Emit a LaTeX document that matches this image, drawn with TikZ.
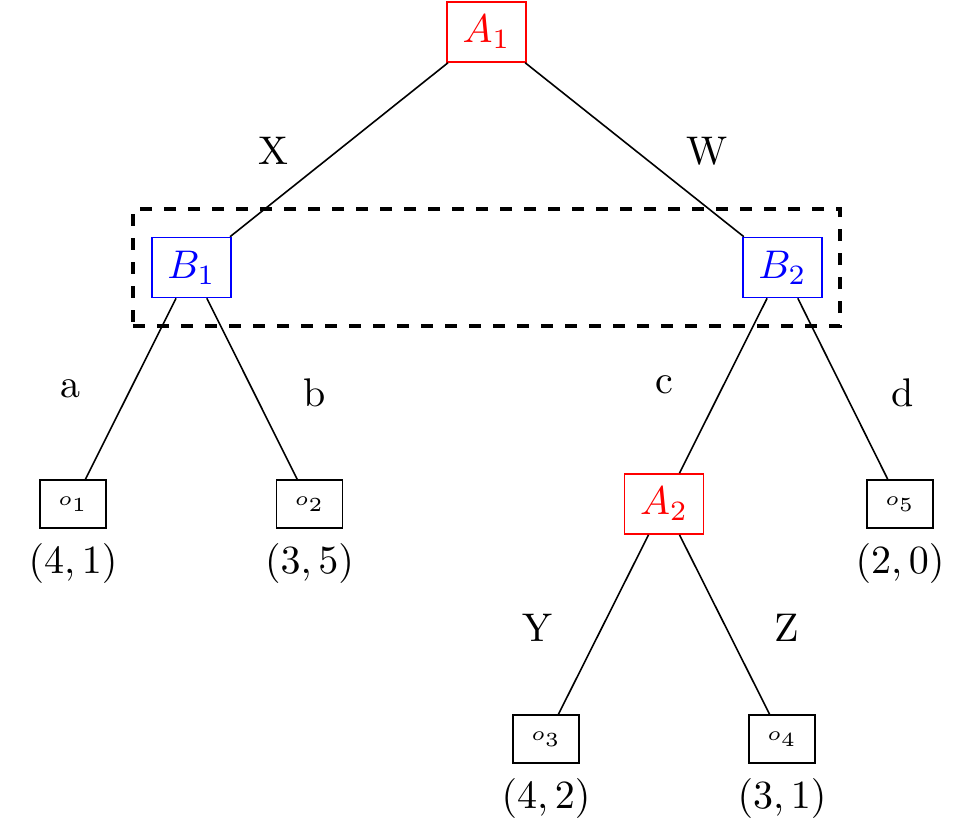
\documentclass[tikz,border=0pt]{standalone}
\begin{document}
\begin{tikzpicture}[x=0.25pt,y=-0.25pt,
  decision/.style={draw,inner sep=3.33pt,minimum width=19.75pt,minimum height=15pt},
  pla/.style={decision,draw=red,text=red},
  plb/.style={decision,draw=blue,text=blue},
  leaf/.style={draw,font=\tiny,inner sep=0pt,minimum width=16.5pt,minimum height=12pt},
  payoff/.style={inner sep=0pt},
  elabel/.style={inner sep=0pt},
  edge/.style={draw,black}]
\useasboundingbox (0,0) rectangle (961,834);
\node[pla] (A1) at (486.5,32) {$A_1$};
\node[plb] (B1) at (191.5,267.5) {$B_1$};
\node[plb] (B2) at (782.5,267.5) {$B_2$};
\node[leaf] (o1) at (73,504) {$o_1$};
\node[leaf] (o2) at (309.5,504) {$o_2$};
\node[pla] (A2) at (664,504) {$A_2$};
\node[leaf] (o5) at (900,504) {$o_5$};
\node[leaf] (o3) at (546,739) {$o_3$};
\node[leaf] (o4) at (782,739) {$o_4$};
\node[payoff] (p1) at (73,563) {$(4,1)$};
\node[payoff] (p2) at (309.5,563) {$(3,5)$};
\node[payoff] (p5) at (900,563) {$(2,0)$};
\node[payoff] (p3) at (546,798) {$(4,2)$};
\node[payoff] (p4) at (782,798) {$(3,1)$};
\draw (A1) -- (B1);
\draw (A1) -- (B2);
\draw (B1) -- (o1);
\draw (B1) -- (o2);
\draw (B2) -- (A2);
\draw (B2) -- (o5);
\draw (A2) -- (o3);
\draw (A2) -- (o4);
\node[elabel] (lX) at (273,151) {X};
\node[elabel] (lW) at (707,151) {W};
\node[elabel] (la) at (70,389) {a};
\node[elabel] (lb) at (315,393) {b};
\node[elabel] (lc) at (664,385) {c};
\node[elabel] (ld) at (903,393) {d};
\node[elabel] (lY) at (537,628) {Y};
\node[elabel] (lZ) at (787,628) {Z};
\node[draw,thick,dashed,inner sep=0pt,minimum width=176.75pt,minimum height=29.25pt] (info) at (486.5,267.5) {};
\end{tikzpicture}
\end{document}
